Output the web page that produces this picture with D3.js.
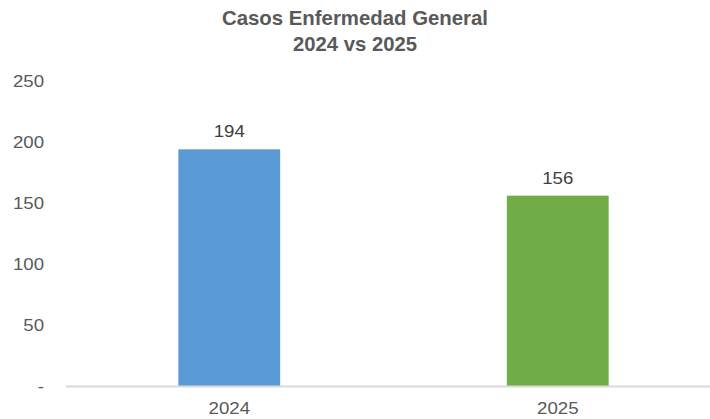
<!DOCTYPE html>
<html>
<head>
<meta charset="utf-8">
<script src="https://cdn.jsdelivr.net/npm/d3@7"></script>
<style>
  html, body { margin: 0; padding: 0; background: #fff; }
  svg { display: block; font-family: "Liberation Sans", Arial, sans-serif; }
</style>
</head>
<body>
<svg id="chart" width="710" height="419"></svg>
<script>
// Case counts per year
const categories = ["2024", "2025"];
const values = [194, 156];
const barColors = ["#5B9BD5", "#70AD47"];
const yTicks = [0, 50, 100, 150, 200, 250];
const titleLines = ["Casos Enfermedad General", "2024 vs 2025"];
const titleWidths = [266, 124];

const svg = d3.select("#chart");
const W = 710, H = 419;
const margin = { left: 65, right: -12, top: 81, bottom: 33 };

const x = d3.scaleBand()
  .domain(categories)
  .range([margin.left, W - margin.right])
  .paddingInner(0.69)
  .paddingOuter(0.345);

const y = d3.scaleLinear()
  .domain([0, 250])
  .range([H - margin.bottom, margin.top]);

// Slightly wider glyphs for the axis and value labels
function widen(sel, k) {
  sel.each(function () {
    const len = this.getComputedTextLength();
    d3.select(this)
      .attr("textLength", len * k)
      .attr("lengthAdjust", "spacingAndGlyphs");
  });
}

// Title
svg.append("g")
  .selectAll("text")
  .data(titleLines)
  .join("text")
  .attr("x", 355)
  .attr("y", (d, i) => 25 + i * 26)
  .attr("text-anchor", "middle")
  .attr("font-size", 21)
  .attr("font-weight", "bold")
  .attr("fill", "#595959")
  .attr("textLength", (d, i) => titleWidths[i])
  .attr("lengthAdjust", "spacingAndGlyphs")
  .text(d => d);

// Y axis labels (no line, no ticks)
const yAxis = d3.axisLeft(y)
  .tickValues(yTicks)
  .tickSize(0)
  .tickPadding(0)
  .tickFormat(d => d === 0 ? "-" : d3.format("d")(d));

const gy = svg.append("g")
  .attr("transform", "translate(44,0)")
  .call(yAxis);
gy.select(".domain").remove();
gy.selectAll("text")
  .attr("font-size", 16.5)
  .attr("font-family", "Liberation Sans, Arial, sans-serif")
  .attr("fill", "#595959")
  .call(widen, 1.13);

// Bars
svg.append("g")
  .selectAll("rect")
  .data(values)
  .join("rect")
  .attr("x", (d, i) => x(categories[i]))
  .attr("y", d => y(d))
  .attr("width", x.bandwidth())
  .attr("height", d => y(0) - y(d))
  .attr("fill", (d, i) => barColors[i]);

// Value labels
svg.append("g")
  .selectAll("text")
  .data(values)
  .join("text")
  .attr("x", (d, i) => x(categories[i]) + x.bandwidth() / 2)
  .attr("y", d => y(d) - 12)
  .attr("text-anchor", "middle")
  .attr("font-size", 16.5)
  .attr("fill", "#404040")
  .text(d => d)
  .call(widen, 1.13);

// X axis
const xAxis = d3.axisBottom(x).tickSize(0).tickPadding(16);
const gx = svg.append("g")
  .attr("transform", `translate(0,${y(0)})`)
  .call(xAxis);
gx.select(".domain")
  .attr("stroke", "#d9d9d9")
  .attr("stroke-width", 2);
gx.selectAll("text")
  .attr("font-size", 16.5)
  .attr("font-family", "Liberation Sans, Arial, sans-serif")
  .attr("fill", "#595959")
  .call(widen, 1.13);
</script>
</body>
</html>
